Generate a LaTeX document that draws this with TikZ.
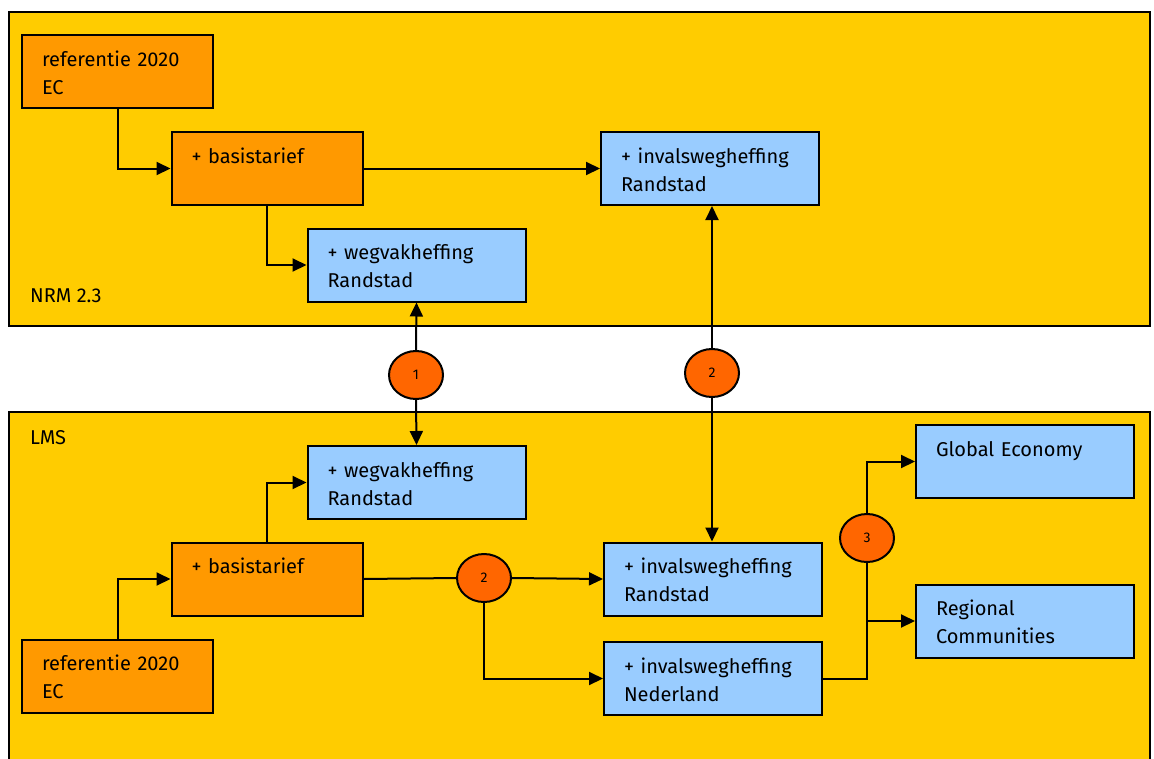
\documentclass[tikz,border=0pt]{standalone}
\usepackage{fontspec}
\setmainfont{Fira Sans}
\usepackage{tikz}
\usetikzlibrary{arrows.meta,positioning,shapes.geometric}
\definecolor{panelyellow}{HTML}{FFCC00}
\definecolor{boxorange}{HTML}{FF9900}
\definecolor{boxblue}{HTML}{99CCFF}
\definecolor{stepred}{HTML}{FF6600}

\begin{document}
\begin{tikzpicture}[
  x=1pt, y=-1pt,
  every node/.style={font=\fontsize{20}{28}\selectfont},
  panel/.style={draw=black, line width=2pt, fill=panelyellow},
  obox/.style={rectangle, draw=black, line width=2pt, fill=boxorange, align=left, minimum width=191pt, minimum height=73pt, text width=151pt, inner xsep=20pt, text depth=26pt},
  bbox/.style={rectangle, draw=black, line width=2pt, fill=boxblue, align=left, minimum width=218pt, minimum height=73pt, text width=178pt, inner xsep=20pt, text depth=26pt},
  stepnum/.style={ellipse, draw=black, line width=2pt, fill=stepred, minimum width=54pt, minimum height=48pt, inner sep=0pt, font=\fontsize{14}{16}\selectfont},
  arrow/.style={-{Triangle[length=14pt,width=13pt]}, line width=2pt, draw=black},
  link/.style={line width=2pt, draw=black}
]
\useasboundingbox (0,0) rectangle (1154,758);

% panels
\draw[panel] (9,12) rectangle (1150,326);
\draw[panel] (9,412) rectangle (1150,775);
\node[anchor=west, inner sep=0pt] (nrm) at (30,296) {NRM 2.3};
\node[anchor=west, inner sep=0pt] (lms) at (30,438) {LMS};

% NRM 2.3
\node[obox] (ref1) at (117.5,71.5) {referentie 2020\\EC};
\node[obox] (basis1) at (267,168.5) {+ basistarief\\\mbox{}};
\node[bbox] (inv1) at (710,168.5) {+ invalswegheffing\\Randstad};
\node[bbox] (weg1) at (416.5,265) {+ wegvakheffing\\Randstad};

% LMS
\node[bbox] (weg2) at (416.5,482.5) {+ wegvakheffing\\Randstad};
\node[obox] (basis2) at (267,579) {+ basistarief\\\mbox{}};
\node[obox] (ref2) at (117.5,676) {referentie 2020\\EC};
\node[bbox] (invR) at (713,579) {+ invalswegheffing\\Randstad};
\node[bbox] (invN) at (713,678.5) {+ invalswegheffing\\Nederland};
\node[bbox] (glob) at (1025,461.5) {Global Economy\\\mbox{}};
\node[bbox] (reg) at (1025,621) {Regional\\Communities};

% steps
\node[stepnum] (s1) at (416,375) {1};
\node[stepnum] (s2a) at (712,373) {2};
\node[stepnum] (s2b) at (484,578) {2};
\node[stepnum] (s3) at (867,538) {3};

% connectors NRM
\draw[arrow] (ref1.south) |- (basis1.west);
\draw[arrow] (basis1.east) -- (inv1.west);
\draw[arrow] (basis1.south) |- (weg1.west);

% connectors between models
\draw[arrow] (s1.north) -- (weg1.south);
\draw[arrow] (s1.south) -- (weg2.north);
\draw[arrow] (s2a.north) -- (s2a.north |- inv1.south);
\draw[arrow] (s2a.south) -- (s2a.south |- invR.north);

% connectors LMS
\draw[arrow] (ref2.north) |- (basis2.west);
\draw[arrow] (basis2.north) |- (weg2.west);
\draw[link] (basis2.east) -- (s2b.west);
\draw[arrow] (s2b.east) -- (invR.west);
\draw[arrow] (s2b.south) |- (invN.west);
\draw[link] (invN.east) -| (s3.south);
\draw[arrow] (s3.north) |- (glob.west);
\coordinate (split) at (s3.south |- reg.west);
\draw[arrow] (split) -- (reg.west);
\end{tikzpicture}
\end{document}
